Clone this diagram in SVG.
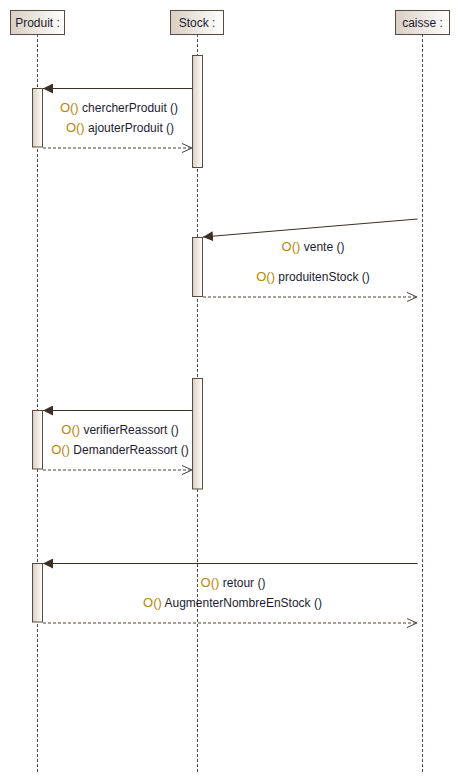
<svg xmlns="http://www.w3.org/2000/svg" width="460" height="783" viewBox="0 0 460 783">
<defs>
<linearGradient id="g" x1="0" y1="0" x2="1" y2="0">
<stop offset="0" stop-color="#d9cfc2"/>
<stop offset="1" stop-color="#ffffff"/>
</linearGradient>
<marker id="fill" markerWidth="12" markerHeight="10" refX="10" refY="5" orient="auto" markerUnits="userSpaceOnUse">
<path d="M0,0 L10,5 L0,10 z" fill="#3b2f27"/>
</marker>
<marker id="open" markerWidth="12" markerHeight="10" refX="10" refY="5" orient="auto" markerUnits="userSpaceOnUse">
<path d="M0,0.5 L10,5 L0,9.5" fill="none" stroke="#4a4038" stroke-width="1"/>
</marker>
</defs>
<style>
.head{fill:url(#g);stroke:#5a4a3c;stroke-width:1}
.act{fill:url(#g);stroke:#5a4a3c;stroke-width:1}
.life{stroke:#5a4a40;stroke-width:1;stroke-dasharray:3,2;fill:none}
.call{stroke:#3b2f27;stroke-width:1;fill:none;marker-end:url(#fill)}
.ret{stroke:#4a4038;stroke-width:1;stroke-dasharray:3,2;fill:none;marker-end:url(#open)}
text{font-family:"Liberation Sans",Arial,sans-serif;font-size:12px;fill:#1c1c30}
.op{fill:#b8860b;font-size:13px}
.lbl{text-anchor:middle}
</style>
<g id="lifelines">
<line class="life" x1="37.5" y1="34" x2="37.5" y2="773"/>
<line class="life" x1="197.5" y1="34" x2="197.5" y2="773"/>
<line class="life" x1="422.5" y1="34" x2="422.5" y2="773"/>
</g>
<g id="Produit">
<rect class="head" x="10.5" y="10.5" width="54" height="24"/>
<text x="37.5" y="27" text-anchor="middle">Produit :</text>
</g>
<g id="Stock">
<rect class="head" x="170.5" y="10.5" width="53" height="24"/>
<text x="197" y="27" text-anchor="middle">Stock :</text>
</g>
<g id="caisse">
<rect class="head" x="395.5" y="10.5" width="54" height="24"/>
<text x="422.5" y="27" text-anchor="middle">caisse :</text>
</g>
<g id="activations">
<rect class="act" x="192.5" y="55.5" width="10" height="112"/>
<rect class="act" x="32.5" y="88.5" width="10" height="58.5"/>
<rect class="act" x="192.5" y="237.5" width="10" height="59"/>
<rect class="act" x="192.5" y="378.5" width="10" height="110.5"/>
<rect class="act" x="32.5" y="410.5" width="10" height="58.5"/>
<rect class="act" x="32.5" y="563.5" width="10" height="58.5"/>
</g>
<g id="connectors">
<line class="call" x1="192.5" y1="88.5" x2="43" y2="88.5"/>
<line class="ret" x1="43" y1="148" x2="192" y2="148"/>
<line class="call" x1="417.5" y1="219" x2="203" y2="237"/>
<line class="ret" x1="203" y1="297" x2="417" y2="297"/>
<line class="call" x1="192.5" y1="410.5" x2="43" y2="410.5"/>
<line class="ret" x1="43" y1="470" x2="192" y2="470"/>
<line class="call" x1="417.5" y1="563.5" x2="43" y2="563.5"/>
<line class="ret" x1="43" y1="623" x2="417" y2="623"/>
</g>
<g id="labels">
<text class="lbl" x="119" y="112"><tspan class="op">O()</tspan> chercherProduit ()</text>
<text class="lbl" x="120" y="132"><tspan class="op">O()</tspan> ajouterProduit ()</text>
<text class="lbl" x="313" y="251"><tspan class="op">O()</tspan> vente ()</text>
<text class="lbl" x="313" y="281"><tspan class="op">O()</tspan> produitenStock ()</text>
<text class="lbl" x="120" y="434"><tspan class="op">O()</tspan> verifierReassort ()</text>
<text class="lbl" x="120" y="454"><tspan class="op">O()</tspan> DemanderReassort ()</text>
<text class="lbl" x="233" y="587"><tspan class="op">O()</tspan> retour ()</text>
<text class="lbl" x="232.5" y="607"><tspan class="op">O()</tspan> AugmenterNombreEnStock ()</text>
</g>
</svg>
